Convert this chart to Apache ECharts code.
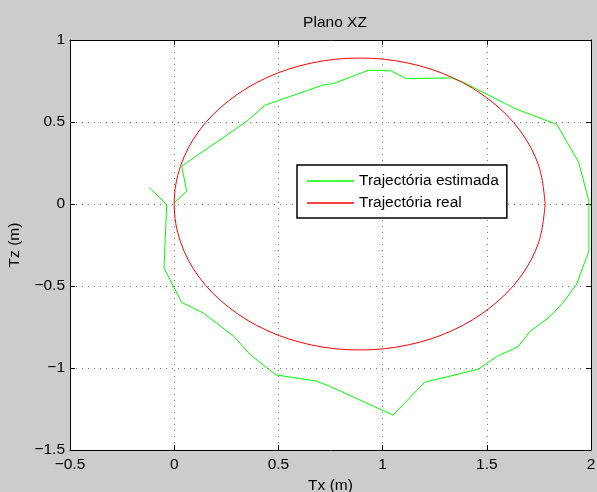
<!DOCTYPE html>
<html>
<head>
    <meta charset="UTF-8">
    <script type="text/javascript" src="https://cdn.jsdelivr.net/npm/echarts@6/dist/echarts.min.js"></script>
</head>
<body style="margin: 0;padding: 0;background: #cccccc;">
<div id="main" style="width: 597px;height:492px;"></div>
<script>
    // trayectoria estimada (x, z)
    var estX = [-0.12, -0.036, -0.049, 0.036, 0.14, 0.287, 0.366, 0.488, 0.682, 0.75, 1.05, 1.202, 1.46, 1.548,
        1.651, 1.707, 1.803, 1.864, 1.93, 1.99, 1.99, 1.94, 1.835, 1.635, 1.396, 1.332, 1.113, 1.04, 0.933,
        0.765, 0.71, 0.435, 0.35, 0.036, 0.06, 0.0]
    var estZ = [0.1, -0.003, -0.39, -0.6, -0.665, -0.808, -0.92, -1.042, -1.08, -1.114, -1.287, -1.087, -1.007, -0.93,
        -0.869, -0.777, -0.686, -0.604, -0.492, -0.287, 0.017, 0.257, 0.486, 0.582, 0.737, 0.769, 0.765, 0.812, 0.816,
        0.735, 0.724, 0.602, 0.506, 0.231, 0.078, 0.007]
    // trayectoria real (circulo)
    var realX = [1.78, 1.75, 1.661, 1.519, 1.335, 1.12, 0.89, 0.66, 0.445, 0.261, 0.119, 0.03, 0.0,
        0.03, 0.119, 0.261, 0.445, 0.66, 0.89, 1.12, 1.335, 1.519, 1.661, 1.75, 1.78]
    var realZ = [0.0, 0.23, 0.445, 0.629, 0.771, 0.86, 0.89, 0.86, 0.771, 0.629, 0.445, 0.23, 0.0,
        -0.23, -0.445, -0.629, -0.771, -0.86, -0.89, -0.86, -0.771, -0.629, -0.445, -0.23, 0.0]
    var seriesNames = ['Trajectória estimada', 'Trajectória real']

    function pairs(xs, ys) {
        var out = []
        for (var i = 0; i < xs.length; i++) out.push([xs[i], ys[i]])
        return out
    }

    var font = 'Liberation Sans, Arial, sans-serif'
    var fs = 15.5
    function fmt(v) {
        return String(v).replace('-', '\u2212')
    }

    var chart = echarts.init(document.getElementById('main'));
    var mainX = {
        type: 'value', min: -0.5, max: 2, interval: 0.5,
        name: 'Tx (m)', nameLocation: 'middle', nameGap: 20,
        nameTextStyle: {color: '#000', fontSize: fs, fontFamily: font},
        axisLine: {show: true, onZero: false, lineStyle: {color: '#000'}},
        axisTick: {show: true, inside: true, length: 5, lineStyle: {color: '#000'}},
        axisLabel: {color: '#000', fontSize: fs, fontFamily: font, margin: 7, formatter: fmt},
        splitLine: {show: true, lineStyle: {color: '#777', type: [1, 5]}}
    }
    var mainY = {
        type: 'value', min: -1.5, max: 1, interval: 0.5,
        name: 'Tz (m)', nameLocation: 'middle', nameGap: 47,
        nameTextStyle: {color: '#000', fontSize: fs, fontFamily: font},
        axisLine: {show: true, onZero: false, lineStyle: {color: '#000'}},
        axisTick: {show: true, inside: true, length: 5, lineStyle: {color: '#000'}},
        axisLabel: {color: '#000', fontSize: fs, fontFamily: font, margin: 5, formatter: fmt},
        splitLine: {show: true, lineStyle: {color: '#777', type: [1, 5]}}
    }
    var option = {
        backgroundColor: '#cccccc',
        animation: false,
        title: {
            text: 'Plano XZ', left: 330, top: 10, textAlign: 'center',
            textStyle: {color: '#000', fontSize: fs, fontWeight: 'normal', fontFamily: font}
        },
        grid: {
            left: 70, right: 6, top: 40, bottom: 42, show: true, backgroundColor: '#fff', borderWidth: 0,
            outerBoundsMode: 'none', containLabel: false
        },
        legend: {
            data: seriesNames, orient: 'vertical', left: 297, top: 165,
            icon: 'rect', itemWidth: 47, itemHeight: 1.5, itemGap: 6,
            backgroundColor: '#fff', borderColor: '#000', borderWidth: 1.5,
            padding: [8, 8, 7, 10],
            textStyle: {color: '#000', fontSize: fs, fontFamily: font}
        },
        xAxis: [mainX, {
            type: 'value', position: 'top', min: -0.5, max: 2, interval: 0.5,
            axisLine: {show: true, onZero: false, lineStyle: {color: '#000'}},
            axisTick: {show: true, inside: true, length: 5, lineStyle: {color: '#000'}},
            axisLabel: {show: false}, splitLine: {show: false}
        }],
        yAxis: [mainY, {
            type: 'value', position: 'right', min: -1.5, max: 1, interval: 0.5,
            axisLine: {show: true, onZero: false, lineStyle: {color: '#000'}},
            axisTick: {show: true, inside: true, length: 5, lineStyle: {color: '#000'}},
            axisLabel: {show: false}, splitLine: {show: false}
        }],
        series: [
            {
                name: seriesNames[0], type: 'line', symbol: 'none',
                data: pairs(estX, estZ),
                lineStyle: {color: '#00ff00', width: 1}, itemStyle: {color: '#00ff00'}
            },
            {
                name: seriesNames[1], type: 'line', symbol: 'none', smooth: 0.35,
                data: pairs(realX, realZ),
                lineStyle: {color: '#ff0000', width: 1}, itemStyle: {color: '#ff0000'}
            }
        ]
    };
    chart.setOption(option);
</script>
</body>
</html>
